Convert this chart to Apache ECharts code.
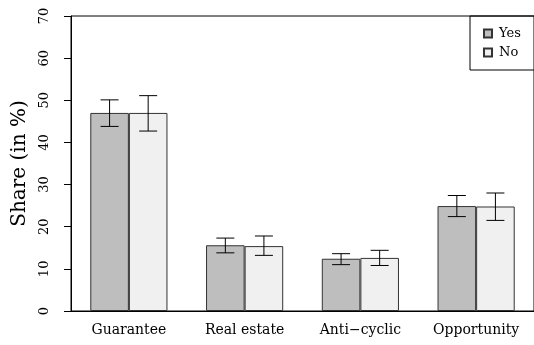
<!DOCTYPE html>
<html>
<head>
<meta charset="utf-8">
<script src="https://cdn.jsdelivr.net/npm/echarts@6/dist/echarts.min.js"></script>
<style>
  html, body { margin: 0; padding: 0; background: #fff; }
  #chart { width: 534px; height: 345px; }
</style>
</head>
<body>
<div id="chart"></div>
<script>
// categories and values
const categories = ['Guarantee', 'Real estate', 'Anti\u2212cyclic', 'Opportunity']
const yesValues = [47.0, 15.6, 12.4, 24.9]
const noValues = [47.0, 15.4, 12.6, 24.8]
// error bar bounds [low, high]
const yesErr = [[43.8, 50.1], [13.8, 17.3], [11.0, 13.6], [22.4, 27.4]]
const noErr = [[42.7, 51.1], [13.2, 17.8], [10.8, 14.4], [21.5, 28.0]]
const yTicks = [0, 10, 20, 30, 40, 50, 60, 70]

const serif = '"DejaVu Serif", "Liberation Serif", serif'

// error bar renderer, side = -1 for left bar, +1 for right bar
function errorBar(side) {
  return function (params, api) {
    const x = api.value(0)
    const lowPt = api.coord([x, api.value(1)])
    const highPt = api.coord([x, api.value(2)])
    const band = api.size([1, 0])[0]
    const cx = lowPt[0] + side * band / 6
    const half = 9
    const style = { stroke: '#000', lineWidth: 1 }
    return {
      type: 'group',
      children: [
        { type: 'line', shape: { x1: cx, y1: highPt[1], x2: cx, y2: lowPt[1] }, style },
        { type: 'line', shape: { x1: cx - half, y1: highPt[1], x2: cx + half, y2: highPt[1] }, style },
        { type: 'line', shape: { x1: cx - half, y1: lowPt[1], x2: cx + half, y2: lowPt[1] }, style }
      ]
    }
  }
}

const chart = echarts.init(document.getElementById('chart'))

const option = {
  animation: false,
  grid: {
    left: 71,
    top: 16,
    width: 468,
    bottom: 34,
    show: true,
    borderColor: '#000',
    borderWidth: 1,
    backgroundColor: 'transparent'
  },
  legend: {
    data: ['Yes', 'No'],
    orient: 'vertical',
    left: 470,
    top: 16,
    padding: [11, 60, 11, 13],
    borderColor: '#000',
    borderWidth: 1,
    itemWidth: 8,
    itemHeight: 8,
    itemGap: 6,
    icon: 'rect',
    selectedMode: false,
    textStyle: {
      fontFamily: serif,
      fontSize: 13,
      color: '#000',
      padding: [0, 0, 0, 2]
    }
  },
  xAxis: {
    type: 'category',
    data: categories,
    axisLine: { lineStyle: { color: '#000', width: 1 } },
    axisTick: { alignWithLabel: true, length: 6, lineStyle: { color: '#000' } },
    axisLabel: {
      color: '#000',
      fontFamily: serif,
      fontSize: 14,
      margin: 12
    }
  },
  yAxis: {
    type: 'value',
    min: 0,
    max: 70,
    interval: 10,
    name: 'Share (in %)',
    nameLocation: 'middle',
    nameGap: 36,
    nameTextStyle: {
      fontFamily: serif,
      fontSize: 20,
      color: '#000'
    },
    axisLine: { show: true, lineStyle: { color: '#000', width: 1 } },
    axisTick: { show: true, length: 7, lineStyle: { color: '#000' } },
    splitLine: { show: false },
    axisLabel: {
      rotate: 90,
      color: '#000',
      fontFamily: serif,
      fontSize: 13,
      margin: 20,
      formatter: v => (yTicks.includes(v) ? String(v) : '')
    }
  },
  series: [
    {
      name: 'Yes',
      type: 'bar',
      data: yesValues,
      barGap: '0%',
      barCategoryGap: '33.33%',
      itemStyle: { color: '#bebebe', borderColor: '#333', borderWidth: 1 }
    },
    {
      name: 'No',
      type: 'bar',
      data: noValues,
      barGap: '0%',
      barCategoryGap: '33.33%',
      itemStyle: { color: '#f0f0f0', borderColor: '#333', borderWidth: 1 }
    },
    {
      type: 'custom',
      renderItem: errorBar(-1),
      data: yesErr.map((e, i) => [i, e[0], e[1]]),
      encode: { x: 0, y: [1, 2] },
      z: 10
    },
    {
      type: 'custom',
      renderItem: errorBar(1),
      data: noErr.map((e, i) => [i, e[0], e[1]]),
      encode: { x: 0, y: [1, 2] },
      z: 10
    }
  ]
}

chart.setOption(option)
</script>
</body>
</html>
